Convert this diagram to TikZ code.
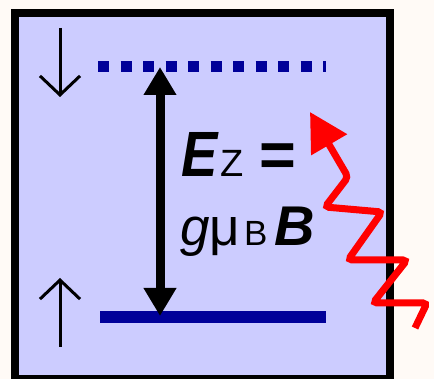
\documentclass[tikz,border=0pt]{standalone}
\usepackage{fontspec}
\setmainfont{Liberation Sans}
\newfontfamily\narrowfont[FakeStretch=0.85]{Liberation Sans}
\usepackage{xcolor}
\usetikzlibrary{arrows.meta,positioning,calc}
\definecolor{paper}{HTML}{FFFAF6}
\definecolor{cellfill}{HTML}{CCCCFF}
\definecolor{levelblue}{HTML}{000099}
\tikzset{
  cell/.style={draw=black, line width=8pt, fill=cellfill, inner sep=0pt,
               anchor=north west},
  level/.style={draw=levelblue, line width=12pt},
  hilevel/.style={level, line width=11pt, dash pattern=on 11pt off 11.5pt},
  spin/.style={-{Straight Barb[length=19pt,width=40pt]}, line width=3pt},
  gap/.style={{Triangle[length=28pt,width=31pt]}-{Triangle[length=28pt,width=31pt]},
              line width=9pt},
  photon/.style={-{Triangle[length=38pt,width=40pt]}, draw=red,
                 line width=7pt, rounded corners=4pt},
  eqn/.style={inner sep=0pt, anchor=base west},
}
\newcommand{\fs}[1]{\fontsize{#1}{#1}\selectfont}

\begin{document}
\begin{tikzpicture}[x=1pt, y=-1pt]
  \useasboundingbox[fill=paper] (0,0) rectangle (434,379);
  \node[cell, minimum width=375pt, minimum height=366pt] (box) at (11,9) {};
  % the two Zeeman levels
  \coordinate (hiL) at (98,67);
  \coordinate (hiR) at (326,67);
  \coordinate (loL) at (100,317);
  \coordinate (loR) at (326,317);
  \draw[hilevel] (hiL) -- (hiR);
  \draw[level] (loL) -- (loR);
  % splitting
  \coordinate (gaptop) at (160,67);
  \coordinate (gapbot) at (160,316);
  \draw[gap] (gapbot) -- (gaptop);
  % spin directions
  \coordinate (dnfrom) at (60,28);
  \coordinate (dnto) at (60,97);
  \coordinate (upfrom) at (60,347);
  \coordinate (upto) at (60,278);
  \draw[spin] (dnfrom) -- (dnto);
  \draw[spin] (upfrom) -- (upto);
  \node[eqn] (ez) at (181,177)
    {{\narrowfont\fs{64}\bfseries\itshape E}\hspace{3pt}{\fs{38}Z}\hspace{16pt}{\fs{63}\bfseries =}};
  \node[eqn] (gmb) at (180,246)
    {{\fs{53}\itshape g}{\fs{53}μ}\hspace{4pt}{\fs{35}B}\hspace{7pt}{\fs{56}\bfseries\itshape B}};
  % microwave photon
  \coordinate (rfsrc) at (415,328);
  \coordinate (rftip) at (310,112);
  \draw[photon] (rfsrc) -- (427,303) -- (373,303) -- (407,260) -- (348,260)
    -- (382,212) -- (325,207) -- (348,177) -- (rftip);
\end{tikzpicture}
\end{document}
